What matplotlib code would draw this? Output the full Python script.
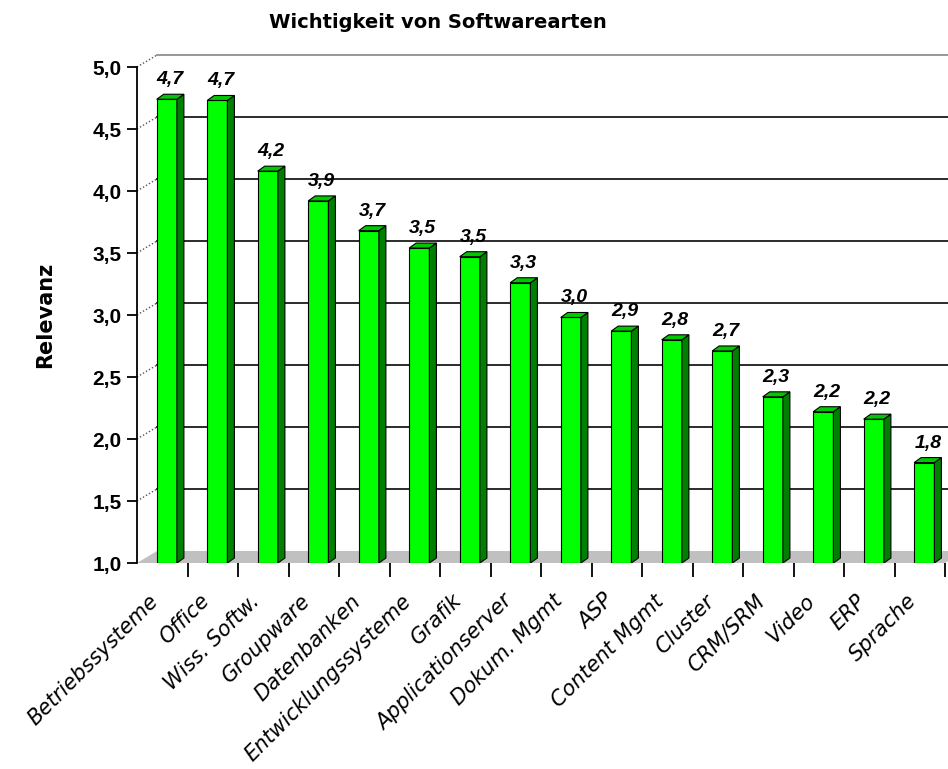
import matplotlib
matplotlib.use("Agg")
import matplotlib.pyplot as plt
from matplotlib.patches import Polygon
from matplotlib.transforms import ScaledTranslation

categories = ["Betriebssysteme", "Office", "Wiss. Softw.", "Groupware", "Datenbanken",
              "Entwicklungssysteme", "Grafik", "Applicationserver", "Dokum. Mgmt", "ASP",
              "Content Mgmt", "Cluster", "CRM/SRM", "Video", "ERP", "Sprache"]
values = [4.74, 4.73, 4.16, 3.92, 3.68, 3.54, 3.47, 3.26, 2.98, 2.87,
          2.80, 2.71, 2.34, 2.22, 2.16, 1.81]
yticks = [1.0, 1.5, 2.0, 2.5, 3.0, 3.5, 4.0, 4.5, 5.0]

front_col = "#00ff00"
side_col = "#008000"
top_col = "#00c800"

fig = plt.figure(figsize=(9.48, 7.69), dpi=100)
ax = fig.add_axes([137 / 948, 206 / 769, 808 / 948, 496 / 769])
n = len(categories)
ax.set_xlim(0, n)
ax.set_ylim(1.0, 5.0)

# 3D depth in data units
px_x = n / 808
px_y = 4.0 / 496
wall_dx, wall_dy = 20 * px_x, 12 * px_y
bar_dx, bar_dy = 7 * px_x, 5 * px_y

# floor
floor = Polygon([(0, 1.0), (n, 1.0), (n + wall_dx, 1.0 + wall_dy), (wall_dx, 1.0 + wall_dy)],
                closed=True, facecolor="#c0c0c0", edgecolor="none", zorder=1, clip_on=False)
ax.add_patch(floor)

# back wall gridlines + dotted connectors
for y in yticks[1:]:
    col = "#909090" if y == 5.0 else "#1a1a1a"
    ax.plot([wall_dx, n + wall_dx], [y + wall_dy, y + wall_dy], color=col, lw=1.3,
            zorder=1.5, clip_on=False)
    ax.plot([0, wall_dx], [y, y + wall_dy], color="#555555", lw=1.0, ls=(0, (1, 1.5)),
            zorder=1.5, clip_on=False)

# bars
xs = [i + 0.5 + 0.09 for i in range(n)]
w = 0.4
ax.bar(xs, [v - 1.0 for v in values], bottom=1.0, width=w, color=front_col,
       edgecolor="black", linewidth=0.8, zorder=3)
for x, v in zip(xs, values):
    xl, xr = x - w / 2, x + w / 2
    side = Polygon([(xr, 1.0), (xr + bar_dx, 1.0 + bar_dy), (xr + bar_dx, v + bar_dy), (xr, v)],
                   closed=True, facecolor=side_col, edgecolor="black", linewidth=0.8, zorder=3)
    top = Polygon([(xl, v), (xl + bar_dx, v + bar_dy), (xr + bar_dx, v + bar_dy), (xr, v)],
                  closed=True, facecolor=top_col, edgecolor="black", linewidth=0.8, zorder=3)
    ax.add_patch(side)
    ax.add_patch(top)
    ax.text(x + bar_dx / 2, v + bar_dy + 6 * px_y, f"{v:.1f}".replace(".", ","),
            ha="center", va="bottom", fontsize=14, fontweight="bold", fontstyle="italic",
            family="Liberation Sans", zorder=4)

# axes styling
for s in ["top", "right", "bottom"]:
    ax.spines[s].set_visible(False)
ax.spines["left"].set_linewidth(1.3)
ax.set_yticks(yticks)
ax.set_yticklabels([f"{t:.1f}".replace(".", ",") for t in yticks],
                   fontsize=15, fontweight="bold", family="Liberation Sans")
ax.tick_params(axis="y", length=7, width=1.3, pad=4)

ax.set_xticks([i + 0.5 for i in range(n)])
ax.set_xticklabels(categories, rotation=45, ha="right", va="top", rotation_mode="anchor",
                   fontsize=15, fontstyle="italic", family="DejaVu Sans")
ax.tick_params(axis="x", length=0, pad=20)
ax.set_xticks(range(1, n + 1), minor=True)
ax.tick_params(axis="x", which="minor", length=10, width=1.3, direction="out")
for lab in ax.get_xticklabels():
    lab.set_transform(lab.get_transform() + ScaledTranslation(-14 / 100, 0, fig.dpi_scale_trans))

ax.set_ylabel("Relevanz", fontsize=15, fontweight="bold", family="DejaVu Sans")
ax.yaxis.set_label_coords(-0.101, 0.5)

fig.text(438 / 948, 1 - 22 / 769, "Wichtigkeit von Softwarearten", ha="center", va="center",
         fontsize=14, fontweight="bold", family="DejaVu Sans")

fig.savefig("out.png", dpi=100)
